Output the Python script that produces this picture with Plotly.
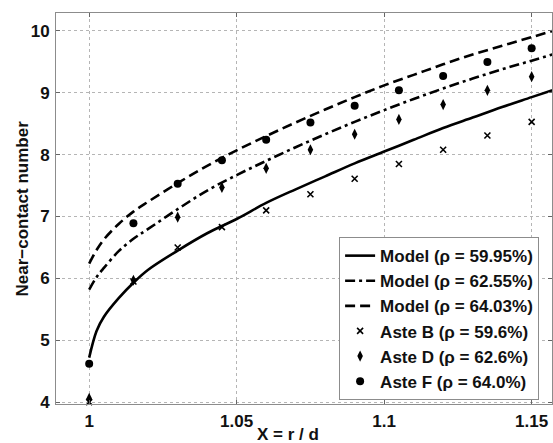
import plotly.graph_objects as go

# ---- data ----
x_model = [1.0, 1.0025, 1.005, 1.01, 1.015, 1.02, 1.03, 1.04, 1.05, 1.06, 1.07,
           1.08, 1.09, 1.10, 1.11, 1.12, 1.13, 1.14, 1.15, 1.16]
model_5995 = [4.72, 5.15, 5.38, 5.68, 5.93, 6.14, 6.45, 6.73, 6.96, 7.22, 7.44,
              7.65, 7.86, 8.05, 8.24, 8.43, 8.60, 8.77, 8.93, 9.09]
model_6255 = [5.82, 6.02, 6.17, 6.44, 6.64, 6.80, 7.12, 7.42, 7.67, 7.90, 8.12,
              8.33, 8.53, 8.72, 8.90, 9.07, 9.23, 9.38, 9.52, 9.66]
model_6403 = [6.24, 6.46, 6.63, 6.88, 7.08, 7.24, 7.54, 7.82, 8.07, 8.30, 8.52,
              8.73, 8.93, 9.12, 9.29, 9.46, 9.62, 9.76, 9.90, 10.04]

x_aste = [1.0, 1.015, 1.03, 1.045, 1.06, 1.075, 1.09, 1.105, 1.12, 1.135, 1.15]
aste_B = [4.0, 5.95, 6.50, 6.83, 7.10, 7.36, 7.61, 7.85, 8.08, 8.31, 8.53]
aste_D = [4.06, 5.97, 6.99, 7.47, 7.78, 8.08, 8.33, 8.57, 8.81, 9.04, 9.26]
aste_F = [4.62, 6.89, 7.53, 7.91, 8.24, 8.52, 8.79, 9.04, 9.27, 9.50, 9.72]

x_ticks = [1, 1.05, 1.1, 1.15]
x_tick_text = ["1", "1.05", "1.1", "1.15"]
y_ticks = [4, 5, 6, 7, 8, 9, 10]

names = ["Model (ρ = 59.95%)", "Model (ρ = 62.55%)", "Model (ρ = 64.03%)",
         "Aste B (ρ = 59.6%)", "Aste D (ρ = 62.6%)", "Aste F (ρ = 64.0%)"]

FONT = "Liberation Sans, Arial, sans-serif"

fig = go.Figure()
fig.add_trace(go.Scatter(x=x_model, y=model_5995, mode="lines", name=names[0],
                         line=dict(color="black", width=2.6, shape="spline")))
fig.add_trace(go.Scatter(x=x_model, y=model_6255, mode="lines", name=names[1],
                         line=dict(color="black", width=2.6, dash="10px,4px,3px,4px", shape="spline")))
fig.add_trace(go.Scatter(x=x_model, y=model_6403, mode="lines", name=names[2],
                         line=dict(color="black", width=2.6, dash="10px,5px", shape="spline")))
fig.add_trace(go.Scatter(x=x_aste, y=aste_B, mode="markers", name=names[3], cliponaxis=False,
                         marker=dict(symbol="x-thin", size=6, color="black",
                                     line=dict(color="black", width=1.6))))
fig.add_trace(go.Scatter(x=x_aste, y=aste_D, mode="markers", name=names[4], cliponaxis=False,
                         marker=dict(symbol="diamond-tall", size=8, color="black")))
fig.add_trace(go.Scatter(x=x_aste, y=aste_F, mode="markers", name=names[5], cliponaxis=False,
                         marker=dict(symbol="circle", size=8, color="black")))

axis_common = dict(
    showline=True, linecolor="#8c8c8c", linewidth=1, mirror="allticks",
    ticks="inside", ticklen=4, tickcolor="#666666",
    showgrid=True, gridcolor="#b5b5b5", griddash="dot", gridwidth=1,
    zeroline=False,
    tickfont=dict(family=FONT, size=17, color="#111111", weight="bold"),
)

fig.update_layout(
    width=553, height=443,
    margin=dict(l=56, r=1, t=13, b=39),
    paper_bgcolor="white", plot_bgcolor="white",
    font=dict(family=FONT, color="#111111"),
    xaxis=dict(range=[0.98875, 1.1569], tickvals=x_ticks, ticktext=x_tick_text,
               ticklabelstandoff=2, **axis_common),
    yaxis=dict(range=[3.97, 10.29], tickvals=y_ticks, ticklabelstandoff=2, **axis_common),
    legend=dict(x=0.974, y=0.01, xanchor="right", yanchor="bottom",
                bgcolor="white", bordercolor="#8c8c8c", borderwidth=1,
                font=dict(family=FONT, size=17, color="#111111", weight="bold"),
                tracegroupgap=0, itemwidth=30),
    showlegend=True,
    annotations=[
        dict(text="X = r / d", xref="paper", yref="paper",
             x=(288 - 56) / 496, y=-(435 - 404) / 391, xanchor="center", yanchor="middle",
             showarrow=False, font=dict(family=FONT, size=17, color="#111111", weight="bold")),
        dict(text="Near−contact number", xref="paper", yref="paper",
             x=-(56 - 22) / 496, y=0.5, xanchor="center", yanchor="middle", textangle=-90,
             showarrow=False, font=dict(family=FONT, size=17, color="#111111", weight="bold")),
    ],
)

fig.write_html("out.html")
